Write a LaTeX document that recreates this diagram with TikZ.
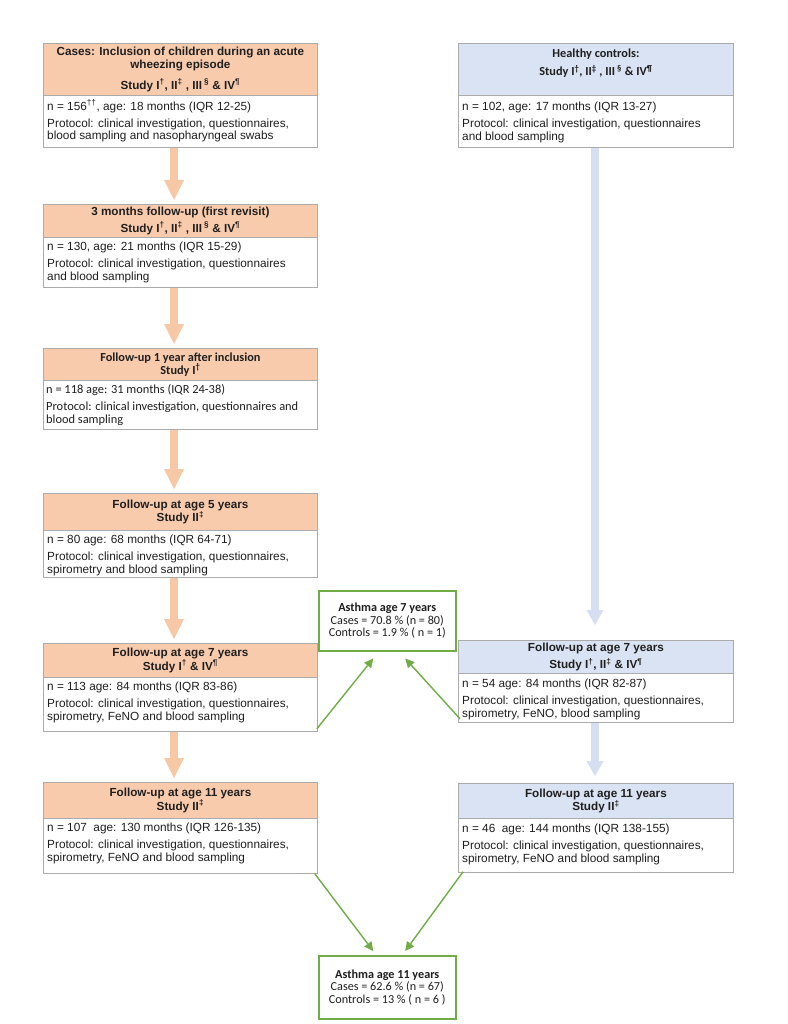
\documentclass[tikz,border=0pt]{standalone}
\usepackage{fontspec}
\setmainfont{Liberation Sans}
\newfontfamily\carlito{Carlito}
\usetikzlibrary{arrows.meta,calc}
\definecolor{hdrO}{HTML}{F8CBAD}
\definecolor{hdrB}{HTML}{DAE3F3}
\definecolor{boxgray}{HTML}{ABABAB}
\definecolor{grn}{HTML}{70AD47}
\definecolor{arrO}{HTML}{F6C8A6}
\definecolor{arrB}{HTML}{D5DFF1}
\definecolor{txt}{HTML}{1F1F1F}
\begin{document}
\begin{tikzpicture}[x=1pt,y=-1pt,
  box/.style={draw=boxgray,line width=0.8pt,inner sep=0pt,anchor=north west},
  lw/.style={minimum width=274pt},
  rw/.style={minimum width=275pt},
  hfont/.style={font=\fontsize{11.7}{12.7}\selectfont\bfseries},
  cfont/.style={font=\carlito\fontsize{12.3}{13}\selectfont\bfseries},
  hO/.style={box,fill=hdrO,align=center,text=txt,hfont},
  hB/.style={box,fill=hdrB,align=center,text=txt,hfont},
  bd/.style={box,fill=white},
  bt/.style={anchor=north west,inner sep=0pt,align=left,text=txt,font=\fontsize{11.8}{12.8}\selectfont},
  ct/.style={anchor=north west,inner sep=0pt,align=left,text=txt,font=\carlito\fontsize{12.4}{12.8}\selectfont},
  asth/.style={box,draw=grn,line width=1.5pt,fill=white,minimum width=137pt,align=center,text=txt,font=\carlito\fontsize{12.2}{12.4}\selectfont},
  oarr/.style={draw=arrO,line width=8pt,-{Triangle[width=20pt,length=20pt,line width=0pt]},shorten >=4pt},
  barr/.style={draw=arrB,line width=7.5pt,-{Triangle[width=17pt,length=15pt,line width=0pt]}},
  garr/.style={draw=grn,line width=1.4pt,-{Triangle[width=9pt,length=9pt,line width=0pt]}}
]
\fill[white] (0,0) rectangle (787,1024);
\useasboundingbox (0,0) rectangle (787,1024);

% ---------- left column ----------
\node[hO,lw,minimum height=52pt] (h1) at (43,43)
  {Cases: Inclusion of children during an acute\\wheezing episode\\[7pt]
   Study I\textsuperscript{†}, II\textsuperscript{‡} , III\,\textsuperscript{§} \& IV\textsuperscript{¶}};
\node[bd,lw,minimum height=52pt] (b1) at (43,95) {};
\node[bt] (b1t) at (47,99.5) {n = 156\textsuperscript{††}, age: 18 months (IQR 12-25)\\[4.2pt]
  Protocol: clinical investigation, questionnaires,\\blood sampling and nasopharyngeal swabs};

\node[hO,lw,minimum height=33pt] (h2) at (43,204)
  {3 months follow-up (first revisit)\\[3pt]
   Study I\textsuperscript{†}, II\textsuperscript{‡} , III\,\textsuperscript{§} \& IV\textsuperscript{¶}};
\node[bd,lw,minimum height=50pt] (b2) at (43,237) {};
\node[bt] (b2t) at (47,241.5) {n = 130, age: 21 months (IQR 15-29)\\[4.2pt]
  Protocol: clinical investigation, questionnaires\\and blood sampling};

\node[box,fill=hdrO,align=center,text=txt,lw,minimum height=32pt,cfont] (h3) at (43,348)
  {Follow-up 1 year after inclusion\\Study I\textsuperscript{†}};
\node[bd,lw,minimum height=49pt] (b3) at (43,380) {};
\node[ct] (b3t) at (46,384.5) {n = 118 age: 31 months (IQR 24-38)\\[4.2pt]
  Protocol: clinical investigation, questionnaires and\\blood sampling};

\node[hO,lw,minimum height=37pt] (h4) at (43,493)
  {Follow-up at age 5 years\\Study II\textsuperscript{‡}};
\node[bd,lw,minimum height=47pt] (b4) at (43,530) {};
\node[bt] (b4t) at (47,534.5) {n = 80 age: 68 months (IQR 64-71)\\[4.2pt]
  Protocol: clinical investigation, questionnaires,\\spirometry and blood sampling};

\node[hO,lw,minimum height=34pt] (h5) at (43,643)
  {Follow-up at age 7 years\\Study I\textsuperscript{†} \& IV\textsuperscript{¶}};
\node[bd,lw,minimum height=54pt] (b5) at (43,677) {};
\node[bt] (b5t) at (47,681.5) {n = 113 age: 84 months (IQR 83-86)\\[4.2pt]
  Protocol: clinical investigation, questionnaires,\\spirometry, FeNO and blood sampling};

\node[hO,lw,minimum height=36pt] (h6) at (43,782)
  {Follow-up at age 11 years\\Study II\textsuperscript{‡}};
\node[bd,lw,minimum height=55pt] (b6) at (43,818) {};
\node[bt] (b6t) at (47,822.5) {n = 107~ age: 130 months (IQR 126-135)\\[4.2pt]
  Protocol: clinical investigation, questionnaires,\\spirometry, FeNO and blood sampling};

% ---------- right column ----------
\node[box,fill=hdrB,align=center,text=txt,rw,minimum height=52pt,cfont] (hc) at (458,43)
  {Healthy controls:\\[5pt]
   Study I\textsuperscript{†}, II\textsuperscript{‡} , III\,\textsuperscript{§} \& IV\textsuperscript{¶}\\[1pt]\mbox{}};
\node[bd,rw,minimum height=52pt] (bc) at (458,95) {};
\node[bt] (bct) at (462,101.5) {n = 102, age: 17 months (IQR 13-27)\\[4.2pt]
  Protocol: clinical investigation, questionnaires\\and blood sampling};

\node[hB,rw,minimum height=33pt] (hr5) at (458,640)
  {Follow-up at age 7 years\\[4pt]Study I\textsuperscript{†}, II\textsuperscript{‡} \& IV\textsuperscript{¶}};
\node[bd,rw,minimum height=49pt] (br5) at (458,673) {};
\node[bt] (br5t) at (462,679) {n = 54 age: 84 months (IQR 82-87)\\[4.2pt]
  Protocol: clinical investigation, questionnaires,\\spirometry, FeNO, blood sampling};

\node[hB,rw,minimum height=35pt] (hr6) at (458,783)
  {Follow-up at age 11 years\\Study II\textsuperscript{‡}};
\node[bd,rw,minimum height=54pt] (br6) at (458,818) {};
\node[bt] (br6t) at (462,823.5) {n = 46~ age: 144 months (IQR 138-155)\\[4.2pt]
  Protocol: clinical investigation, questionnaires,\\spirometry, FeNO and blood sampling};

% ---------- asthma boxes ----------
\node[asth,minimum height=60pt] (a7) at (318,590)
  {\textbf{Asthma age 7 years}\\Cases = 70.8 \% (n = 80)\\Controls = 1.9 \% ( n = 1)};
\node[asth,minimum height=63pt] (a11) at (318,955)
  {\textbf{Asthma age 11 years}\\Cases = 62.6 \% (n = 67)\\Controls = 13 \% ( n = 6 )};

% ---------- connectors ----------
\coordinate (ox) at (174,0);
\coordinate (bx) at (595,0);
\draw[oarr] (b1.south -| ox) -- (h2.north -| ox);
\draw[oarr] (b2.south -| ox) -- (h3.north -| ox);
\draw[oarr] (b3.south -| ox) -- (h4.north -| ox);
\draw[oarr] (b4.south -| ox) -- (h5.north -| ox);
\draw[oarr] (b5.south -| ox) -- (h6.north -| ox);
\draw[barr,shorten >=15pt] (bc.south -| bx) -- (hr5.north -| bx);
\draw[barr,shorten >=7pt] (br5.south -| bx) -- (hr6.north -| bx);

\draw[garr] ($(b5.south east)+(-1,-3)$) -- ($(a7.south)+(-14,7)$);
\draw[garr] ($(br5.south west)+(2,-4)$) -- ($(a7.south)+(18,7)$);
\draw[garr] ($(b6.south east)+(-3,0)$) -- ($(a11.north)+(-14,-4)$);
\draw[garr] ($(br6.south west)+(5,-1)$) -- ($(a11.north)+(18,-4)$);
\end{tikzpicture}
\end{document}
